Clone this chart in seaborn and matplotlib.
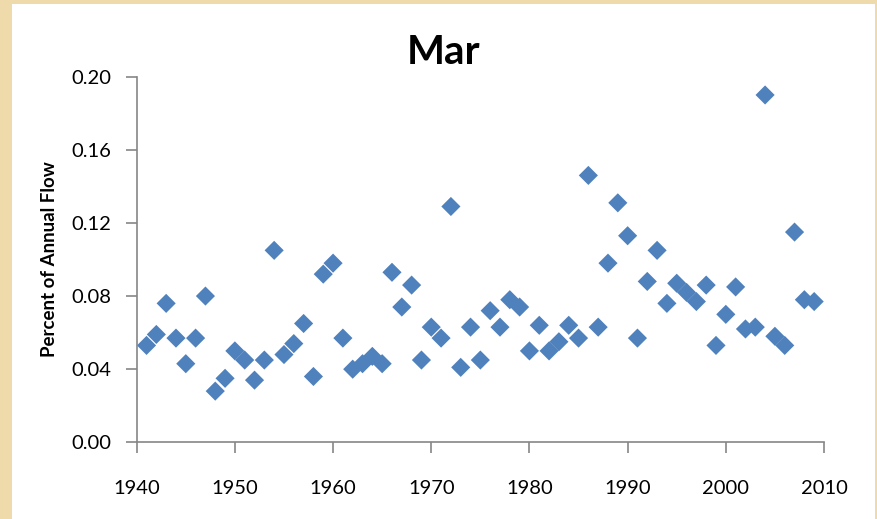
import numpy as np
import pandas as pd
import matplotlib
matplotlib.use('Agg')
import matplotlib.pyplot as plt
import seaborn as sns
from matplotlib.patches import Rectangle
from matplotlib.ticker import FormatStrFormatter

years = list(range(1941, 2010))
pct_flow = [
    0.053, 0.059, 0.076, 0.057, 0.043, 0.057, 0.080, 0.028, 0.035, 0.050,  # 1941-1950
    0.045, 0.034, 0.045, 0.105, 0.048, 0.054, 0.065, 0.036, 0.092, 0.098,  # 1951-1960
    0.057, 0.040, 0.043, 0.047, 0.043, 0.093, 0.074, 0.086, 0.045, 0.063,  # 1961-1970
    0.057, 0.129, 0.041, 0.063, 0.045, 0.072, 0.063, 0.078, 0.074, 0.050,  # 1971-1980
    0.064, 0.050, 0.055, 0.064, 0.057, 0.146, 0.063, 0.098, 0.131, 0.113,  # 1981-1990
    0.057, 0.088, 0.105, 0.076, 0.087, 0.082, 0.077, 0.086, 0.053, 0.070,  # 1991-2000
    0.085, 0.062, 0.063, 0.190, 0.058, 0.053, 0.115, 0.078, 0.077,         # 2001-2009
]
x_ticks = list(range(1940, 2011, 10))
y_ticks = [0.00, 0.04, 0.08, 0.12, 0.16, 0.20]

df = pd.DataFrame({'Year': years, 'Pct': pct_flow})

sns.set_theme(style='white')
plt.rcParams['font.family'] = ['Lato', 'DejaVu Sans']

fig = plt.figure(figsize=(8.78, 5.19), dpi=100)
fig.patch.set_facecolor('#EEDAAA')
# white panel inside the beige frame
fig.patches.append(Rectangle((12 / 878, 0), (875 - 12) / 878, (519 - 4) / 519,
                             transform=fig.transFigure, facecolor='white',
                             edgecolor='none', zorder=-5))

ax = fig.add_axes([136.7 / 878, 1 - 442.3 / 519, (824 - 136.7) / 878, (442.3 - 76.7) / 519])
ax.set_facecolor('none')

sns.scatterplot(data=df, x='Year', y='Pct', marker='D', s=95,
                color='#4F81BD', edgecolor='none', linewidth=0, ax=ax,
                clip_on=False)

ax.set_xlim(1940, 2010)
ax.set_ylim(0, 0.20)
ax.set_xticks(x_ticks)
ax.set_yticks(y_ticks)
ax.yaxis.set_major_formatter(FormatStrFormatter('%.2f'))
ax.tick_params(axis='both', direction='out', length=8, width=1.2,
               color='#868686', labelsize=14.5, labelcolor='black')
ax.tick_params(axis='x', pad=19)
ax.tick_params(axis='y', pad=10)
ax.tick_params(bottom=True, left=True)

for side in ['top', 'right']:
    ax.spines[side].set_visible(False)
for side in ['left', 'bottom']:
    ax.spines[side].set_color('#868686')
    ax.spines[side].set_linewidth(1.2)

ax.set_xlabel('')
ax.set_ylabel('Percent of Annual Flow', fontsize=13.5, fontweight='bold',
              color='black', labelpad=10)
ax.grid(False)

fig.text(444 / 878, 1 - 52 / 519, 'Mar', ha='center', va='center',
         fontsize=29, fontweight='bold', color='black')

plt.savefig('out.png', dpi=100, facecolor=fig.get_facecolor())
plt.close()
